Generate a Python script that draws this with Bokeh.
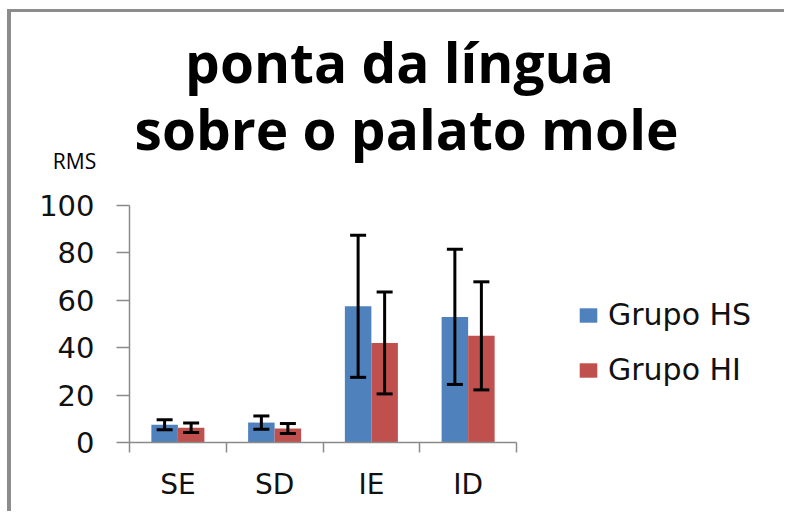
import numpy as np
from bokeh.plotting import figure
from bokeh.models import (ColumnDataSource, Range1d, FixedTicker, Whisker, TeeHead,
                          Legend, LegendItem, Label)
from bokeh.embed import file_html
from bokeh.resources import INLINE

# ---- data ----
categories = ["SE", "SD", "IE", "ID"]
series_names = ["Grupo HS", "Grupo HI"]
hs_values = [7.5, 8.4, 57.5, 53.0]
hs_errors = [2.1, 2.8, 30.0, 28.5]
hi_values = [6.2, 5.9, 42.0, 45.0]
hi_errors = [2.0, 2.1, 21.5, 22.8]
y_ticks = [0, 20, 40, 60, 80, 100]
title_lines = ["ponta da língua", "sobre o palato mole"]
y_title = "RMS"

BLUE = "#4F81BD"
RED = "#C0504D"
AXIS = "#8a8a8a"

# ---- layout (canvas pixels) ----
W, H = 777, 502
AX_LEFT, AX_RIGHT = 118, 505      # where category 0 / 4 boundaries sit
AX_TOP, AX_BOTTOM = 193, 430      # where y=100 / y=0 sit
YMAX = 100.0
ncat = len(categories)
ux = ncat / (AX_RIGHT - AX_LEFT)          # data units per px (x)
uy = YMAX / (AX_BOTTOM - AX_TOP)          # data units per px (y)
x_start = -AX_LEFT * ux
x_end = ncat + (W - AX_RIGHT) * ux
y_start = -(H - AX_BOTTOM) * uy
y_end = YMAX + AX_TOP * uy

bar_w = 0.274
centers = np.arange(ncat) + 0.5

def make_source(vals, errs, shift):
    v = np.array(vals, dtype=float)
    e = np.array(errs, dtype=float)
    return ColumnDataSource(dict(x=centers + shift, top=v, upper=v + e, lower=v - e))

src_hs = make_source(hs_values, hs_errors, -bar_w / 2)
src_hi = make_source(hi_values, hi_errors, bar_w / 2)

p = figure(width=W, height=H, output_backend="svg", toolbar_location=None,
           title=None, x_range=Range1d(x_start, x_end), y_range=Range1d(y_start, y_end),
           min_border_left=0, min_border_top=0, min_border_right=0, min_border_bottom=0)
p.styles = {"margin-top": "9px", "margin-left": "7px",
            "border-top": "3px solid #8c8c8c", "border-left": "4px solid #8c8c8c"}
p.outline_line_color = None
p.xgrid.visible = False
p.ygrid.visible = False

r_hs = p.vbar(x="x", top="top", width=bar_w, source=src_hs, fill_color=BLUE, line_color=None)
r_hi = p.vbar(x="x", top="top", width=bar_w, source=src_hi, fill_color=RED, line_color=None)

for src in (src_hs, src_hi):
    w = Whisker(base="x", upper="upper", lower="lower", source=src, level="overlay",
                line_color="black", line_width=3,
                upper_head=TeeHead(size=16, line_color="black", line_width=3),
                lower_head=TeeHead(size=16, line_color="black", line_width=3))
    p.add_layout(w)

# x axis: labels at centers, ticks at boundaries
xa = p.xaxis[0]
xa.fixed_location = 0
xa.bounds = (0, ncat)
xa.ticker = FixedTicker(ticks=list(centers), minor_ticks=list(range(ncat + 1)))
xa.major_label_overrides = {float(c): lab for c, lab in zip(centers, categories)}
xa.major_tick_line_color = None
xa.minor_tick_line_color = AXIS
xa.minor_tick_line_width = 1.5
xa.minor_tick_out = 10
xa.minor_tick_in = 0
xa.axis_line_color = AXIS
xa.axis_line_width = 1.5
xa.major_label_standoff = 15
xa.major_label_text_font = "DejaVu Sans"
xa.major_label_text_font_size = "28px"
xa.major_label_text_color = "#111111"

ya = p.yaxis[0]
ya.fixed_location = 0
ya.bounds = (0, YMAX)
ya.ticker = FixedTicker(ticks=y_ticks)
ya.minor_tick_line_color = None
ya.major_tick_line_color = AXIS
ya.major_tick_line_width = 1.5
ya.major_tick_out = 13
ya.major_tick_in = 0
ya.axis_line_color = AXIS
ya.axis_line_width = 1.5
ya.major_label_standoff = 22
ya.major_label_text_font = "DejaVu Sans"
ya.major_label_text_font_size = "29px"
ya.major_label_text_color = "#111111"

# titles (anchored at the top-left corner of the value axis)
p.add_layout(Label(x=0, y=YMAX, x_offset=270, y_offset=144, text=title_lines[0],
                   text_align="center", text_baseline="alphabetic",
                   text_font="Open Sans", text_font_style="bold", text_font_size="55px",
                   text_color="black"))
p.add_layout(Label(x=0, y=YMAX, x_offset=277, y_offset=77, text=title_lines[1],
                   text_align="center", text_baseline="alphabetic",
                   text_font="Open Sans", text_font_style="bold", text_font_size="55px",
                   text_color="black"))
p.add_layout(Label(x=0, y=YMAX, x_offset=-55, y_offset=45, text=y_title,
                   text_align="center", text_baseline="alphabetic",
                   text_font="Open Sans", text_font_size="21px", text_color="black"))

legend = Legend(items=[LegendItem(label=series_names[0], renderers=[r_hs]),
                       LegendItem(label=series_names[1], renderers=[r_hi])],
                location=(566, 127), orientation="vertical",
                glyph_width=22, glyph_height=18, label_standoff=9, spacing=20,
                padding=0, margin=0, border_line_color=None, background_fill_color=None,
                label_text_font="DejaVu Sans", label_text_font_size="30px",
                label_text_color="#111111")
p.add_layout(legend, "center")

open("out.html", "w").write(file_html(p, INLINE))
